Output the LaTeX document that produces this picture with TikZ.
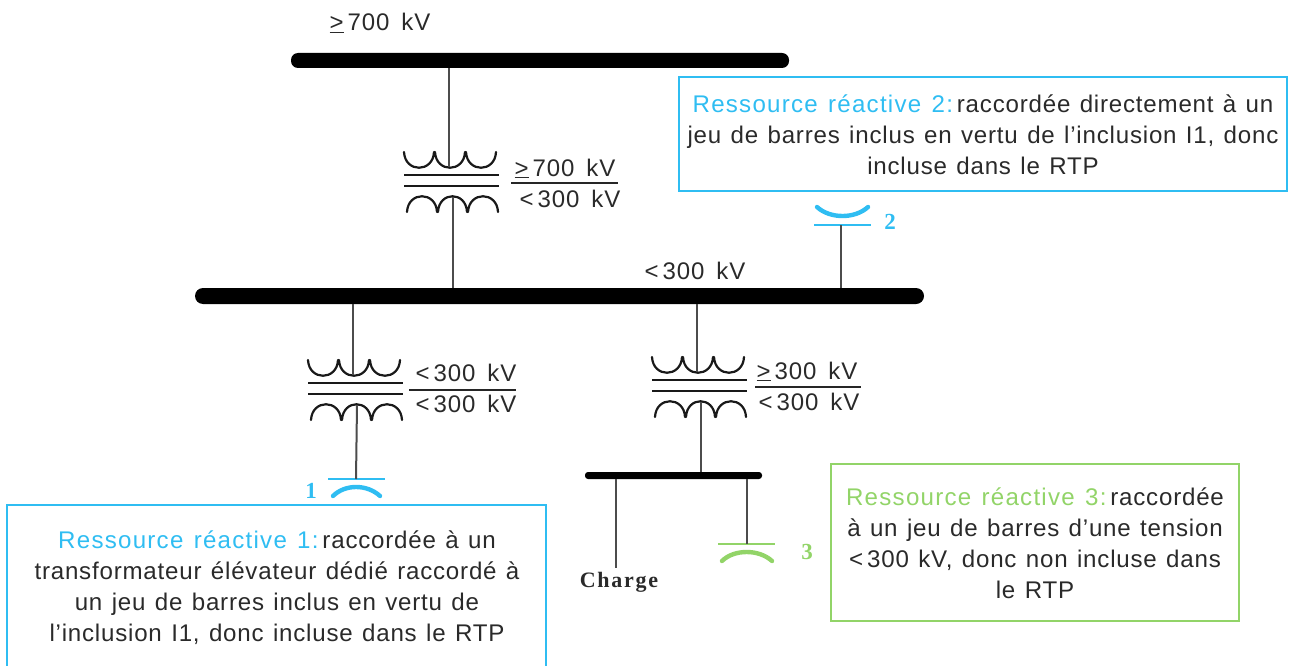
\documentclass[tikz,border=0pt]{standalone}
\usepackage{fontspec}
\setmainfont{Liberation Sans}
\newfontfamily\bodyfont[LetterSpace=3.3,WordSpace=1.25]{Liberation Sans}
\newfontfamily\headfont[LetterSpace=5.2,WordSpace=1.3]{Liberation Sans}
\newfontfamily\voltfont[LetterSpace=3.5,WordSpace=1.6]{Liberation Sans}
\newfontfamily\serifbold{Liberation Serif}
\newfontfamily\chargefont[LetterSpace=8]{Liberation Serif}
\definecolor{rblue}{HTML}{2FBDF2}
\definecolor{rgreen}{HTML}{92D468}
\definecolor{ink}{HTML}{2A2A2A}
\newcommand{\ugt}{\underline{\smash{>}}}
\newcommand{\hd}[2]{{\headfont\color{#1}#2}\kern-8pt\relax}
\tikzset{
  x=1pt,y=-1pt,
  busbar/.style={fill=black,draw=none,rounded corners=#1,inner sep=0,outer sep=0},
  wire/.style={draw=black!70,line width=2pt},
  coil/.style={draw=black!90,line width=2.2pt,line cap=round},
  core/.style={draw=black!90,line width=2.7pt},
  ratio/.style={draw=black!85,line width=2.4pt},
  volt/.style={font=\voltfont\fontsize{24}{26}\selectfont,text=ink,inner sep=0,anchor=base},
  infobox/.style={draw=#1,line width=1.6pt,inner sep=0,outer sep=0},
  infotext/.style={font=\bodyfont\fontsize{24.1}{31}\selectfont,text=ink,align=center,inner sep=0,anchor=center},
  capplate/.style={draw=#1,line width=2pt},
  capcurve/.style={draw=#1,line width=4.4pt,line cap=round},
  numlabel/.style={font=\serifbold\bfseries\fontsize{23}{24}\selectfont,text=#1,inner sep=0,anchor=center},
  xfmr/.pic={
    \path[coil] (0,0) .. controls (1,21) and (29,21) .. (30,0)
      (31,0) .. controls (32,21) and (60,21) .. (61,0)
      (62,0) .. controls (63,21) and (91,21) .. (92,0);
    \path[core] (0,23) -- (95,23) (0,34) -- (95,34);
    \path[coil] (3,60) .. controls (4,39) and (32,39) .. (33,60)
      (34,60) .. controls (35,39) and (62,39) .. (63,60)
      (64,60) .. controls (65,39) and (93,39) .. (94,60);
    \coordinate (-top) at (45,15);
    \coordinate (-bot) at (49,45);
  }
}
\begin{document}
\begin{tikzpicture}
\useasboundingbox (0,0) rectangle (1295,666);
% bus bars
\node[busbar=7pt,minimum width=498pt,minimum height=15pt] (bus1) at (540,60.5) {};
\node[busbar=8pt,minimum width=729pt,minimum height=16pt] (bus2) at (559.5,296) {};
\node[busbar=3pt,minimum width=177pt,minimum height=7pt] (bus3) at (673.5,475.5) {};
% transformers
\pic (t1) at (404,152) {xfmr};
\pic (t2) at (308,360) {xfmr};
\pic (t3) at (652,357) {xfmr};
% capacitors
\coordinate (c1) at (356,479);
\coordinate (c2) at (841,225);
\coordinate (c3) at (747,544);
\coordinate (load) at (616,568);
\draw[capplate=rblue] (328,479) -- (385,479);
\draw[capcurve=rblue] (333,496) .. controls (345,484) and (367,484) .. (380,496);
\draw[capplate=rblue] (814,225) -- (871,225);
\draw[capcurve=rblue] (817,207) .. controls (830,219) and (855,219) .. (868,207);
\draw[capplate=rgreen] (718,544) -- (775,544);
\draw[capcurve=rgreen] (722,561) .. controls (734,549) and (759,549) .. (772,561);
% connectors
\draw[wire] (bus1.south -| t1-top) -- (t1-top);
\draw[wire] (t1-bot) -- (bus2.north -| t1-bot);
\draw[wire] (bus2.south -| t2-top) -- (t2-top);
\draw[wire] (t2-bot) -- (c1);
\draw[wire] (bus2.south -| t3-top) -- (t3-top);
\draw[wire] (t3-bot) -- (bus3.north -| t3-bot);
\draw[wire] (bus3.south -| load) -- (load);
\draw[wire] (bus3.south -| c3) -- (c3);
\draw[wire] (c2) -- (bus2.north -| c2);
% ratio bars
\coordinate (r1a) at (511,183); \coordinate (r1b) at (618,183);
\coordinate (r2a) at (409,390); \coordinate (r2b) at (516,390);
\coordinate (r3a) at (755,387); \coordinate (r3b) at (861,387);
\draw[ratio] (r1a) -- (r1b);
\draw[ratio] (r2a) -- (r2b);
\draw[ratio] (r3a) -- (r3b);
% voltage labels
\node[volt] (v0) at (380,31) {\ugt\,700 kV};
\node[volt] (v1a) at (565,176) {\ugt\,700 kV};
\node[volt] (v1b) at (570,207) {<\,300 kV};
\node[volt] (v2) at (695,279) {<\,300 kV};
\node[volt] (v3a) at (466,381) {<\,300 kV};
\node[volt] (v3b) at (466,412) {<\,300 kV};
\node[volt] (v4a) at (807,379) {\ugt\,300 kV};
\node[volt] (v4b) at (809,410) {<\,300 kV};
% numbers
\node[numlabel=rblue] (n1) at (311,491) {1};
\node[numlabel=rblue] (n2) at (890,222) {2};
\node[numlabel=rgreen] (n3) at (807,552) {3};
\node[font=\chargefont\bfseries\fontsize{22}{24}\selectfont,text=ink,inner sep=0] (chg) at (619,582) {Charge};
% info boxes
\node[infobox=rblue,minimum width=608pt,minimum height=114pt] (b2) at (983,134) {};
\node[infotext] (t2b) at (983,135) {\hd{rblue}{Ressource réactive 2:} raccordée directement à un\\jeu de barres inclus en vertu de l’inclusion I1, donc\\incluse dans le RTP};
\node[infobox=rblue,minimum width=539pt,minimum height=170pt] (b1) at (276.5,590) {};
\node[infotext] (t1b) at (277,588) {\hd{rblue}{Ressource réactive 1:} raccordée à un\\transformateur élévateur dédié raccordé à\\un jeu de barres inclus en vertu de\\l’inclusion I1, donc incluse dans le RTP};
\node[infobox=rgreen,minimum width=408pt,minimum height=157pt] (b3) at (1035,542.5) {};
\node[infotext] (t3b) at (1035,543) {\hd{rgreen}{Ressource réactive 3:} raccordée\\à un jeu de barres d’une tension\\<\,300 kV, donc non incluse dans\\le RTP};
\end{tikzpicture}
\end{document}
